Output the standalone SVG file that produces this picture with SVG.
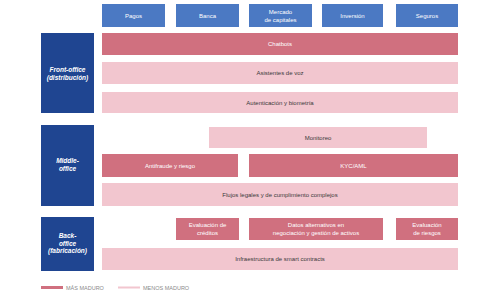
<svg xmlns="http://www.w3.org/2000/svg" width="490" height="300" viewBox="0 0 490 300">
<style>
.top{fill:#4b79c3}
.side{fill:#1f4591}
.dk{fill:#d0707f}
.lt{fill:#f2c6cf}
text{font-family:"Liberation Sans",Arial,sans-serif;font-size:6px;text-anchor:middle}
.tw{fill:#ffffff}
.tk{fill:#3a3a3a}
.ts{fill:#ffffff;font-weight:bold;font-style:italic;font-size:6.5px}
.lg{fill:#8a8a8a;font-size:5.5px;text-anchor:start}
</style>
<rect width="490" height="300" fill="#ffffff"/>
<g id="pagos"><rect class="top" x="102" y="4" width="63" height="23"/><text class="tw" x="133.5" y="17.5">Pagos</text></g>
<g id="banca"><rect class="top" x="176" y="4" width="63" height="23"/><text class="tw" x="207.5" y="17.5">Banca</text></g>
<g id="mercado"><rect class="top" x="249" y="4" width="63" height="23"/><text class="tw" x="280.5" y="14">Mercado</text><text class="tw" x="280.5" y="21.5">de capitales</text></g>
<g id="inversion"><rect class="top" x="322" y="4" width="61" height="23"/><text class="tw" x="352.5" y="17.5">Inversión</text></g>
<g id="seguros"><rect class="top" x="396" y="4" width="62" height="23"/><text class="tw" x="427" y="17.5">Seguros</text></g>

<g id="front"><rect class="side" x="41" y="33" width="53" height="80"/><text class="ts" x="67.5" y="72">Front-office</text><text class="ts" x="67.5" y="79.5">(distribución)</text></g>
<g id="chatbots"><rect class="dk" x="102" y="33" width="356" height="22"/><text class="tw" x="280" y="46">Chatbots</text></g>
<g id="asistentes"><rect class="lt" x="102" y="62" width="356" height="22"/><text class="tk" x="280" y="75">Asistentes de voz</text></g>
<g id="autenticacion"><rect class="lt" x="102" y="92" width="356" height="21"/><text class="tk" x="280" y="104.5">Autenticación y biometría</text></g>

<g id="middle"><rect class="side" x="41" y="125" width="53" height="81"/><text class="ts" x="67.5" y="163">Middle-</text><text class="ts" x="67.5" y="170.5">office</text></g>
<g id="monitoreo"><rect class="lt" x="209" y="127" width="218" height="21"/><text class="tk" x="318" y="139.5">Monitoreo</text></g>
<g id="antifraude"><rect class="dk" x="102" y="154" width="136" height="23"/><text class="tw" x="170" y="167.5">Antifraude y riesgo</text></g>
<g id="kyc"><rect class="dk" x="249" y="154" width="209" height="23"/><text class="tw" x="353.5" y="167.5">KYC/AML</text></g>
<g id="flujos"><rect class="lt" x="102" y="183" width="356" height="23"/><text class="tk" x="280" y="196.5">Flujos legales y de cumplimiento complejos</text></g>

<g id="back"><rect class="side" x="41" y="217" width="53" height="54"/><text class="ts" x="67.5" y="238">Back-</text><text class="ts" x="67.5" y="245.5">office</text><text class="ts" x="67.5" y="253">(fabricación)</text></g>
<g id="creditos"><rect class="dk" x="176" y="218" width="63" height="22"/><text class="tw" x="207.5" y="227">Evaluación de</text><text class="tw" x="207.5" y="234.5">créditos</text></g>
<g id="datos"><rect class="dk" x="249" y="218" width="134" height="22"/><text class="tw" x="316" y="227">Datos alternativos en</text><text class="tw" x="316" y="234.5">negociación y gestión de activos</text></g>
<g id="riesgos"><rect class="dk" x="396" y="218" width="62" height="22"/><text class="tw" x="427" y="227">Evaluación</text><text class="tw" x="427" y="234.5">de riesgos</text></g>
<g id="infra"><rect class="lt" x="102" y="248" width="356" height="22"/><text class="tk" x="280" y="261">Infraestructura de smart contracts</text></g>

<g id="legend">
<rect class="dk" x="41" y="286" width="22" height="3"/>
<text class="lg" x="66" y="289.5">MÁS MADURO</text>
<rect class="lt" x="118" y="286.5" width="22" height="2"/>
<text class="lg" x="143" y="289.5">MENOS MADURO</text>
</g>
</svg>
